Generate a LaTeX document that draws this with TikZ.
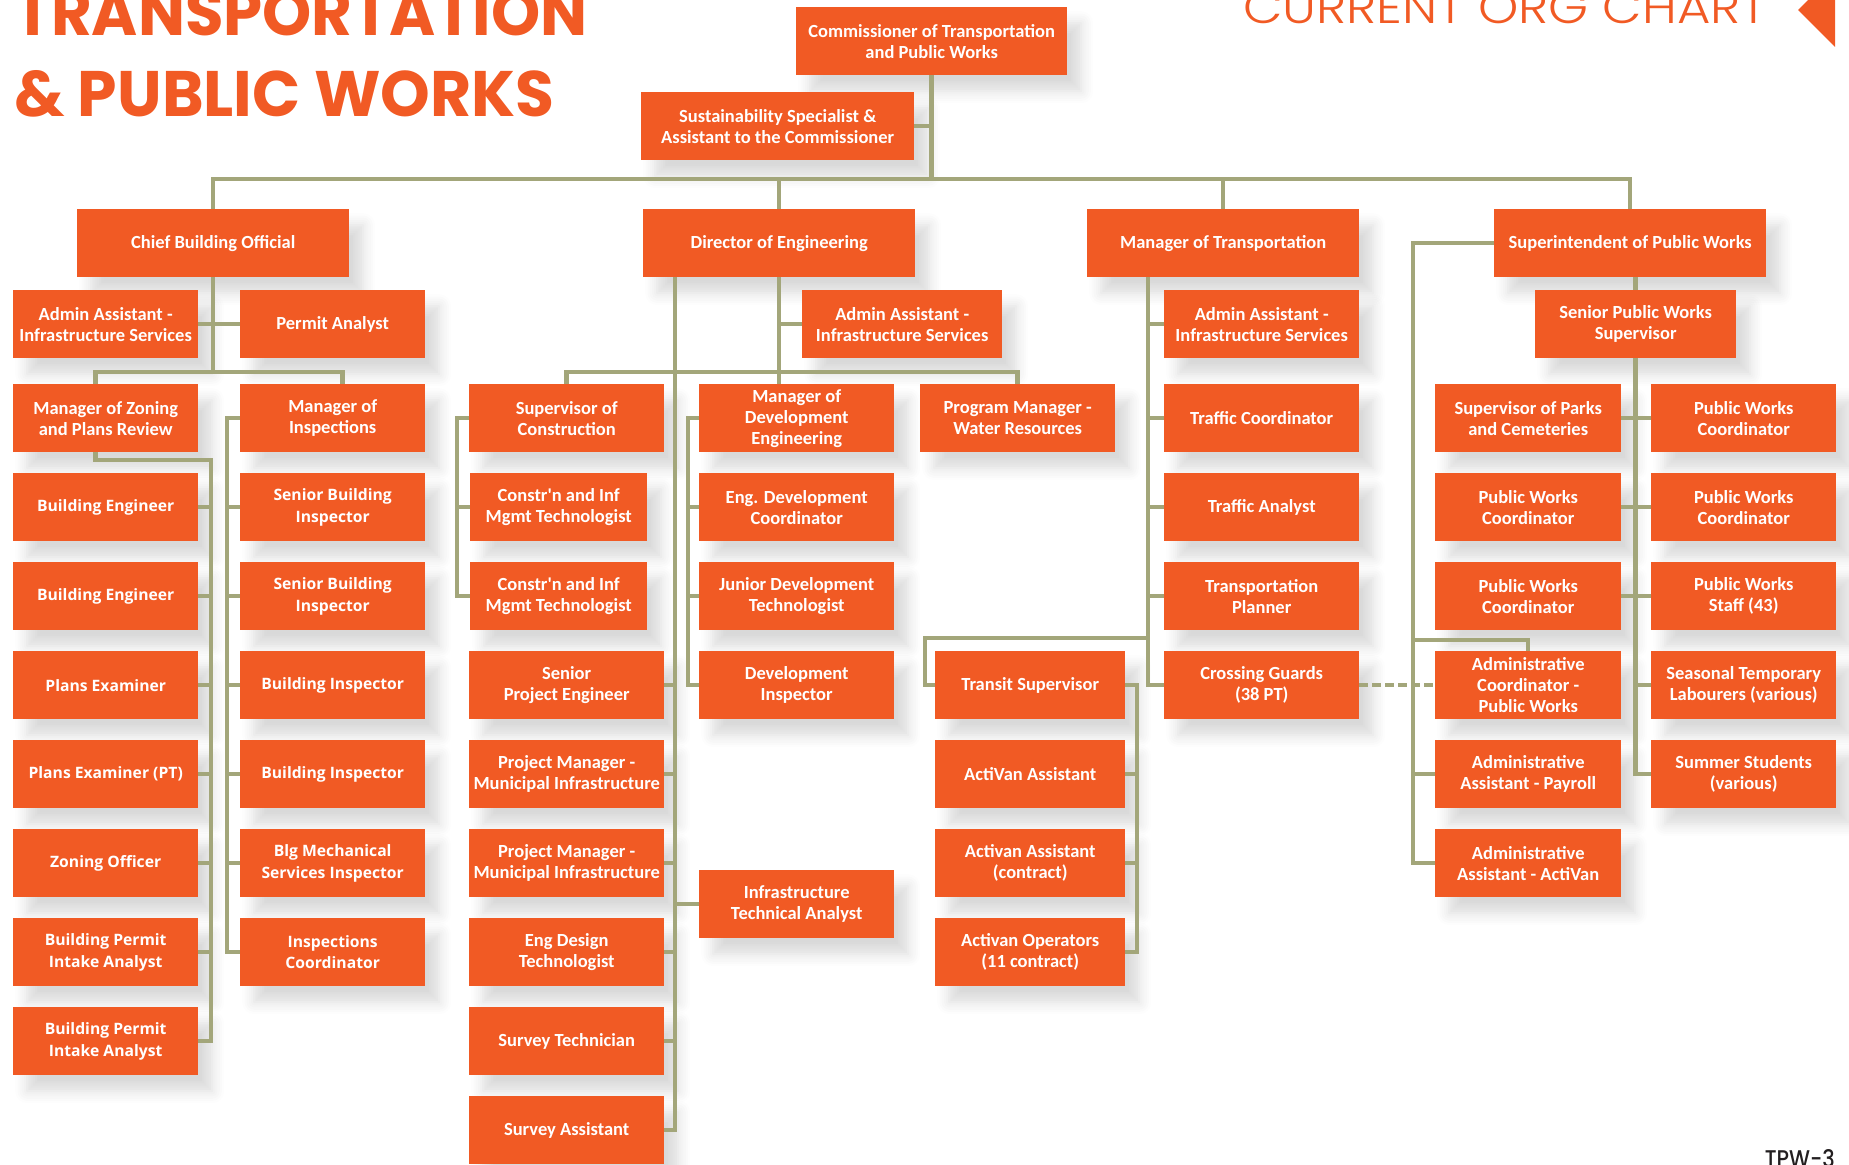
\documentclass[tikz,border=0pt]{standalone}
\usepackage{fontspec}
\usepackage{graphicx}
\usetikzlibrary{shadows.blur}
\newfontfamily\boxfont{Carlito}
\newfontfamily\osfont{Open Sans}
\newfontfamily\titlefont{Poppins}
\newfontfamily\thinfont{Poppins Light}
\newfontfamily\medfont{Poppins Medium}
\definecolor{tpworange}{HTML}{F15A24}
\definecolor{tpwolive}{HTML}{A3A67A}
\definecolor{tpwdark}{HTML}{231F20}
\begin{document}
\begin{tikzpicture}[x=1pt,y=-1pt,
  box/.style={anchor=north west, fill=tpworange, text=white, align=center,
    minimum height=68pt, inner sep=1pt,
    font=\boxfont\bfseries\fontsize{18.5}{21}\selectfont,
    blur shadow={shadow xshift=14pt, shadow yshift=-16pt, shadow blur radius=12pt, shadow opacity=15, shadow blur steps=6}},
  obox/.style={box, font=\osfont\bfseries\fontsize{15.7}{21.5}\selectfont},
  wtop/.style={minimum width=272pt},
  wA/.style={minimum width=185pt},
  wC/.style={minimum width=195pt},
  wT/.style={minimum width=190pt},
  wL/.style={minimum width=186pt},
  conn/.style={draw=tpwolive, line width=4.5pt},
]
\useasboundingbox (0,0) rectangle (1849,1164);
\clip (0,0) rectangle (1849,1164);

% titles
\node[anchor=base west, inner sep=0, text=tpworange] (t1) at (14,35) {\resizebox{573pt}{46pt}{\titlefont\bfseries TRANSPORTATION}};
\node[anchor=base west, inner sep=0, text=tpworange] (t2) at (14,116) {\resizebox{540pt}{46pt}{\titlefont\bfseries \& PUBLIC WORKS}};
\node[anchor=base west, inner sep=0, text=tpworange] (t3) at (1243,24) {\resizebox{524pt}{32pt}{\thinfont CURRENT ORG CHART}};
\fill[tpworange] (1798,10) -- (1835,-27) -- (1835,47) -- cycle;
\node[anchor=base east, inner sep=0, text=tpwdark] (t4) at (1835,1167) {\resizebox{70pt}{18pt}{\medfont TPW-3}};

% top
\node[box, minimum width=271pt] (com) at (796,7) {Commissioner of Transportation\\and Public Works};
\node[box, minimum width=273pt] (sus) at (641,92) {Sustainability Specialist \&\\Assistant to the Commissioner};
\node[box, wtop] (cbo) at (77,209) {Chief Building Official};
\node[box, wtop] (doe) at (643,209) {Director of Engineering};
\node[box, wtop] (mot) at (1087,209) {Manager of Transportation};
\node[box, wtop] (spw) at (1494,209) {Superintendent of Public Works};

% CBO subtree
\node[box, wA] (aa1) at (13,290) {Admin Assistant -\\Infrastructure Services};
\node[box, wA] (pa) at (240,290) {Permit Analyst};
\node[box, wA] (mzp) at (13,384) {Manager of Zoning\\and Plans Review};
\node[box, wA] (mi) at (240,384) {Manager of\\Inspections};
\node[obox, wA] (bld1) at (13,473) {Building Engineer};
\node[obox, wA] (bld2) at (13,562) {Building Engineer};
\node[obox, wA] (pe1) at (13,651) {Plans Examiner};
\node[obox, wA] (pe2) at (13,740) {Plans Examiner (PT)};
\node[obox, wA] (zo) at (13,829) {Zoning Officer};
\node[obox, wA] (bpa1) at (13,918) {Building Permit\\Intake Analyst};
\node[obox, wA] (bpa2) at (13,1007) {Building Permit\\Intake Analyst};
\node[obox, wA] (sbi1) at (240,473) {Senior Building\\Inspector};
\node[obox, wA] (sbi2) at (240,562) {Senior Building\\Inspector};
\node[obox, wA] (bi1) at (240,651) {Building Inspector};
\node[obox, wA] (bi2) at (240,740) {Building Inspector};
\node[obox, wA] (bms) at (240,829) {Blg Mechanical\\Services Inspector};
\node[obox, wA] (ic) at (240,918) {Inspections\\Coordinator};

% DoE subtree
\node[box, minimum width=200pt] (aa2) at (802,290) {Admin Assistant -\\Infrastructure Services};
\node[box, wC] (soc) at (469,384) {Supervisor of\\Construction};
\node[box, wC] (mde) at (699,384) {Manager of\\Development\\Engineering};
\node[box, wC] (pm) at (920,384) {Program Manager -\\Water Resources};
\node[box, minimum width=177pt] (cit1) at (470,473) {Constr\textquotesingle n and Inf\\Mgmt Technologist};
\node[box, minimum width=177pt] (cit2) at (470,562) {Constr\textquotesingle n and Inf\\Mgmt Technologist};
\node[box, wC] (spe) at (469,651) {Senior\\Project Engineer};
\node[box, wC] (pmi1) at (469,740) {Project Manager -\\Municipal Infrastructure};
\node[box, wC] (pmi2) at (469,829) {Project Manager -\\Municipal Infrastructure};
\node[box, wC] (edt) at (469,918) {Eng Design\\Technologist};
\node[box, wC] (st) at (469,1007) {Survey Technician};
\node[box, wC] (sa) at (469,1096) {Survey Assistant};
\node[box, wC] (edc) at (699,473) {Eng. Development\\Coordinator};
\node[box, wC] (jdt) at (699,562) {Junior Development\\Technologist};
\node[box, wC] (di) at (699,651) {Development\\Inspector};
\node[box, wC] (ita) at (699,870) {Infrastructure\\Technical Analyst};

% MoT subtree
\node[box, wC] (aa3) at (1164,290) {Admin Assistant -\\Infrastructure Services};
\node[box, wC] (tc) at (1164,384) {Traffic Coordinator};
\node[box, wC] (ta) at (1164,473) {Traffic Analyst};
\node[box, wC] (tp) at (1164,562) {Transportation\\Planner};
\node[box, wC] (cg) at (1164,651) {Crossing Guards\\(38 PT)};
\node[box, wT] (ts) at (935,651) {Transit Supervisor};
\node[box, wT] (va) at (935,740) {ActiVan Assistant};
\node[box, wT] (vac) at (935,829) {Activan Assistant\\(contract)};
\node[box, wT] (ao) at (935,918) {Activan Operators\\(11 contract)};

% SPW subtree
\node[box, minimum width=201pt] (spws) at (1535,290) {Senior Public Works\\Supervisor};
\node[box, wL] (sopc) at (1435,384) {Supervisor of Parks\\and Cemeteries};
\node[box, wL] (pwc1) at (1435,473) {Public Works\\Coordinator};
\node[box, wL] (pwc2) at (1435,562) {Public Works\\Coordinator};
\node[box, wL] (acpw) at (1435,651) {Administrative\\Coordinator -\\Public Works};
\node[box, wL] (aap) at (1435,740) {Administrative\\Assistant - Payroll};
\node[box, wL] (aaa) at (1435,829) {Administrative\\Assistant - ActiVan};
\node[box, wA] (pwc3) at (1651,384) {Public Works\\Coordinator};
\node[box, wA] (pwc4) at (1651,473) {Public Works\\Coordinator};
\node[box, wA] (pws) at (1651,562) {Public Works\\Staff (43)};
\node[box, wA] (stl) at (1651,651) {Seasonal Temporary\\Labourers (various)};
\node[box, wA] (ss) at (1651,740) {Summer Students\\(various)};

% bus coordinates
\coordinate (topbus) at (0,179);
\coordinate (busA) at (211,460);
\coordinate (busB) at (227,0);
\coordinate (busC) at (675,0);
\coordinate (busD) at (457,0);
\coordinate (busE) at (688,0);
\coordinate (busF) at (1148,0);
\coordinate (busG) at (1137,0);
\coordinate (busH) at (1413,0);
\coordinate (tsj) at (1148,638);
\coordinate (tsc) at (925,638);
\coordinate (acj) at (1413,640);

% top connectors
\draw[conn] (com.south) -- (com.south |- topbus);
\draw[conn] (sus.east) -- (sus.east -| com.south);
\draw[conn] (cbo.north) |- (spw.north |- topbus) -- (spw.north);
\draw[conn] (doe.north) -- (doe.north |- topbus);
\draw[conn] (mot.north) -- (mot.north |- topbus);

% CBO connectors
\draw[conn] (cbo.south) -- ++(0,95);
\draw[conn] (aa1.east) -- (pa.west);
\draw[conn] ([xshift=-10pt]mzp.north) -- ++(0,-12) -| ([xshift=10pt]mi.north);
\draw[conn] ([xshift=-10pt]mzp.south) |- (busA) |- (bpa2.east);
\foreach \n in {bld1,bld2,pe1,pe2,zo,bpa1} \draw[conn] (\n.east) -- (\n.east -| busA);
\draw[conn] (mi.west) -- (mi.west -| busB) |- (ic.west);
\foreach \n in {sbi1,sbi2,bi1,bi2,bms} \draw[conn] (\n.west) -- (\n.west -| busB);

% DoE connectors
\draw[conn] (doe.south) -- (doe.south |- mde.north);
\draw[conn] (aa2.west) -- (aa2.west -| doe.south);
\draw[conn] (soc.north) -- ++(0,-12) -| (pm.north);
\draw[conn] (doe.south -| busC) |- (sa.east);
\foreach \n in {spe,pmi1,pmi2,edt,st} \draw[conn] (\n.east) -- (\n.east -| busC);
\draw[conn] (ita.west) -- (ita.west -| busC);
\draw[conn] (soc.west) -- (soc.west -| busD) |- (cit2.west);
\draw[conn] (cit1.west) -- (cit1.west -| busD);
\draw[conn] (mde.west) -- (mde.west -| busE) |- (di.west);
\foreach \n in {edc,jdt} \draw[conn] (\n.west) -- (\n.west -| busE);

% MoT connectors
\draw[conn] (mot.south -| busF) |- (cg.west);
\foreach \n in {aa3,tc,ta,tp} \draw[conn] (\n.west) -- (\n.west -| busF);
\draw[conn] (tsj) -- (tsc) |- (ts.west);
\draw[conn] (ts.east) -- (ts.east -| busG) |- (ao.east);
\foreach \n in {va,vac} \draw[conn] (\n.east) -- (\n.east -| busG);
\draw[conn, dash pattern=on 9pt off 4pt] (cg.east) -- (acpw.west);

% SPW connectors
\draw[conn] (spw.west) -- (spw.west -| busH) |- (aaa.west);
\draw[conn] (acj) -| (acpw.north);
\draw[conn] (aap.west) -- (aap.west -| busH);
\draw[conn] (spws.north |- spw.south) -- (spws.north);
\draw[conn] (spws.south) |- (ss.west);
\draw[conn] (sopc.east) -- (pwc3.west);
\draw[conn] (pwc1.east) -- (pwc4.west);
\draw[conn] (pwc2.east) -- (pws.west);
\draw[conn] (stl.west) -- (stl.west -| spws.south);
\end{tikzpicture}
\end{document}
